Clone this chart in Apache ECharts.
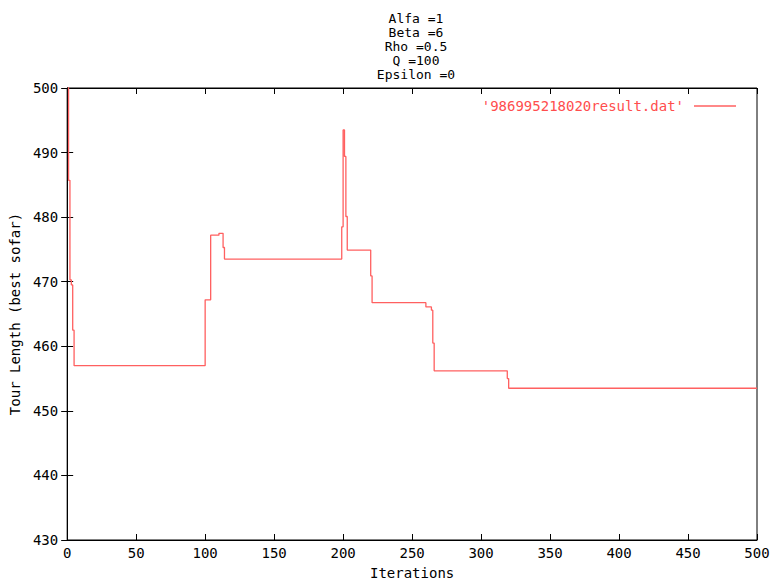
<!DOCTYPE html>
<html>
<head>
<meta charset="utf-8">
<script src="https://cdn.jsdelivr.net/npm/echarts@6/dist/echarts.min.js"></script>
<style>html,body{margin:0;padding:0;background:#fff}#c{width:774px;height:587px}</style>
</head>
<body>
<div id="c"></div>
<script>
// ---- data ----
var titleLines = ['Alfa =1', 'Beta =6', 'Rho =0.5', 'Q =100', 'Epsilon =0'];
var seriesName = "'986995218020result.dat'";
var iterations = [0, 1, 2, 3, 4, 5, 100, 104, 110, 113, 114, 199, 200, 201, 202, 203, 220, 221, 260, 264, 265, 266, 319, 320, 500];
var tourLength = [503, 485.7, 470.3, 469.5, 462.5, 457.0, 467.2, 477.2, 477.5, 475.3, 473.5, 478.5, 493.5, 489.4, 480.1, 474.9, 470.9, 466.75, 466.1, 465.6, 460.5, 456.2, 455.0, 453.5, 453.5];
var xTicks = {min: 0, max: 500, step: 50};
var yTicks = {min: 430, max: 500, step: 10};

var points = iterations.map(function (x, i) { return [x, tourLength[i]]; });

var FONT = 'DejaVu Sans Mono';
var chart = echarts.init(document.getElementById('c'), null, {renderer: 'svg'});
var tickStyle = {show: true, inside: true, length: 6, lineStyle: {color: '#000', width: 1}};
chart.setOption({
  backgroundColor: '#fff',
  animation: false,
  title: {
    text: titleLines.join('\n'),
    left: 411, top: 6, textAlign: 'center',
    textStyle: {fontFamily: FONT, fontSize: 13, fontWeight: 'normal', color: '#000', lineHeight: 14}
  },
  legend: {
    data: [{name: seriesName, icon: 'rect'}],
    right: 33, top: 94, align: 'right',
    itemWidth: 42, itemHeight: 1.5,
    textStyle: {fontFamily: FONT, fontSize: 14, color: '#ff4d4d', padding: [0, 5, 0, 0]}
  },
  grid: {left: 65, right: 17, top: 88, bottom: 47, show: true, borderColor: '#000', borderWidth: 1, containLabel: false},
  xAxis: [{
    type: 'value', min: xTicks.min, max: xTicks.max, interval: xTicks.step,
    name: 'Iterations', nameLocation: 'middle', nameGap: 26,
    nameTextStyle: {fontFamily: FONT, fontSize: 14, color: '#000'},
    axisLine: {show: true, lineStyle: {color: '#000'}},
    axisTick: tickStyle,
    axisLabel: {fontFamily: FONT, fontSize: 14, color: '#000', margin: 6},
    splitLine: {show: false}
  }, {
    type: 'value', position: 'top', min: xTicks.min, max: xTicks.max, interval: xTicks.step,
    axisLine: {show: true, lineStyle: {color: '#000'}},
    axisTick: tickStyle, axisLabel: {show: false}, splitLine: {show: false}
  }],
  yAxis: [{
    type: 'value', min: yTicks.min, max: yTicks.max, interval: yTicks.step,
    name: 'Tour Length (best sofar)', nameLocation: 'middle', nameGap: 42, nameRotate: 90,
    nameTextStyle: {fontFamily: FONT, fontSize: 14, color: '#000'},
    axisLine: {show: true, lineStyle: {color: '#000'}},
    axisTick: tickStyle,
    axisLabel: {fontFamily: FONT, fontSize: 14, color: '#000', margin: 9},
    splitLine: {show: false}
  }, {
    type: 'value', position: 'right', min: yTicks.min, max: yTicks.max, interval: yTicks.step,
    axisLine: {show: true, lineStyle: {color: '#000'}},
    axisTick: tickStyle, axisLabel: {show: false}, splitLine: {show: false}
  }],
  series: [{
    name: seriesName, type: 'line', step: 'end', data: points,
    xAxisIndex: 0, yAxisIndex: 0,
    symbol: 'none', clip: true,
    lineStyle: {color: '#ff6060', width: 1.3},
    itemStyle: {color: '#ff6060'}
  }]
});
</script>
</body>
</html>
